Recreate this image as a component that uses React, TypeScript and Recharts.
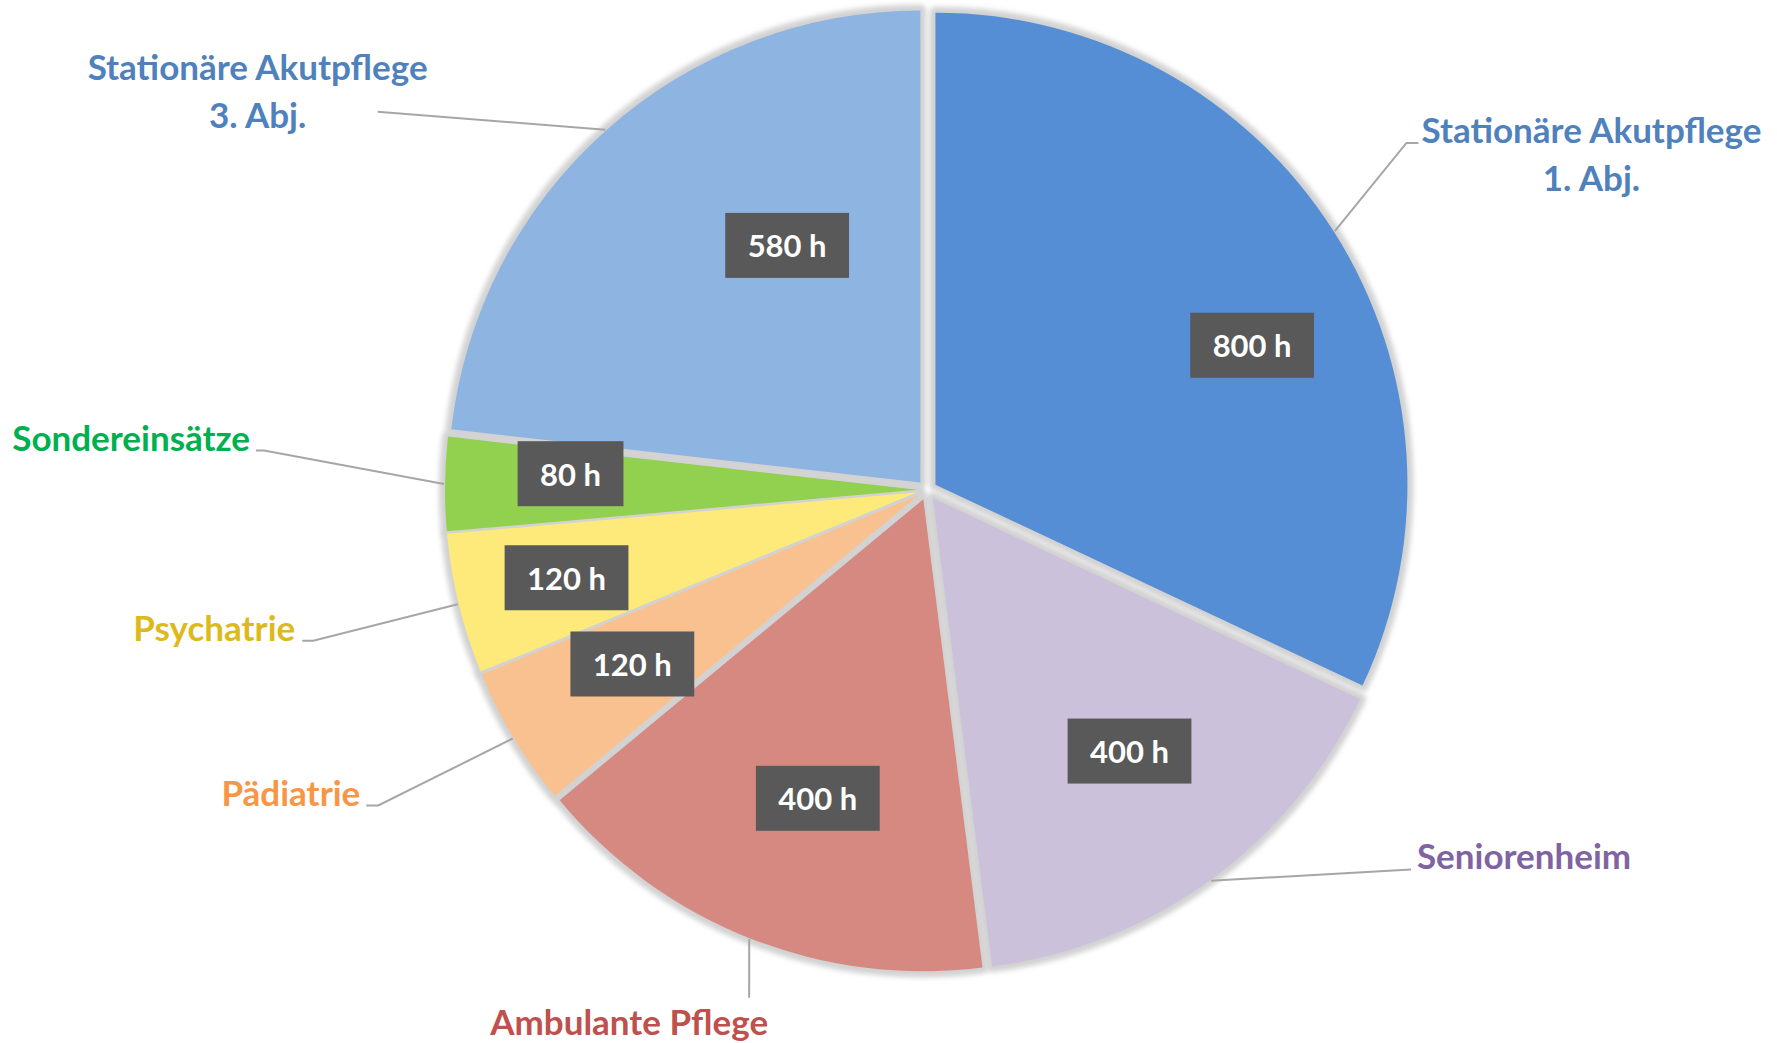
import React from 'react';
import { PieChart, Pie, Cell, Sector } from 'recharts';

// ---------- data ----------
const categories = [
  'Stationäre Akutpflege 1. Abj.',
  'Seniorenheim',
  'Ambulante Pflege',
  'Pädiatrie',
  'Psychatrie',
  'Sondereinsätze',
  'Stationäre Akutpflege 3. Abj.',
];
const categoryLines = [
  ['Stationäre Akutpflege', '1. Abj.'],
  ['Seniorenheim'],
  ['Ambulante Pflege'],
  ['Pädiatrie'],
  ['Psychatrie'],
  ['Sondereinsätze'],
  ['Stationäre Akutpflege', '3. Abj.'],
];
const hours = [800, 400, 400, 120, 120, 80, 580];
const unitSuffix = ' h';

// ---------- style ----------
const sliceColors = ['#558ED5', '#CBC1DA', '#D68980', '#F9C18F', '#FDEA7A', '#92D050', '#8EB4E2'];
const labelColors = ['#4F81BD', '#8064A2', '#C0504D', '#F79646', '#DDBA1C', '#00B050', '#4F81BD'];
const FONT = 'Lato, "Open Sans", sans-serif';

const W = 1777;
const H = 1043;
const CX = 927;
const CY = 490;
const R = 472;
const EXPLODE = 10;
const RAD = Math.PI / 180;

// data-label placement (turn: clockwise degrees off the slice mid angle, r: fraction of radius)
const dataLabelLayout = [
  { turn: 8.4, r: 0.754 },
  { turn: -1.8, r: 0.70 },
  { turn: -2.1, r: 0.693 },
  { turn: 0.4, r: 0.725 },
  { turn: 0, r: 0.786 },
  { turn: 1.9, r: 0.756 },
  { turn: 12, r: 0.597 },
];

// category-label placement: elbow of leader line (polar), tick, text anchor offsets
const outerLayout = [
  { turn: -3.5, r: 1.254, tick: 12, anchor: 'middle', dx: 185, dy: 0 },
  { turn: -15.9, r: 1.303, tick: 0, anchor: 'start', dx: 6, dy: 0 },
  { turn: -2.3, r: 1.14, tick: 0, anchor: 'middle', dx: -120, dy: 37 },
  { turn: 1.06, r: 1.341, tick: -12, anchor: 'end', dx: -18, dy: 0 },
  { turn: -0.12, r: 1.339, tick: -11, anchor: 'end', dx: -18, dy: 0 },
  { turn: 2.68, r: 1.407, tick: -8, anchor: 'end', dx: -14, dy: 0 },
  { turn: -13.7, r: 1.413, tick: 0, anchor: 'middle', dx: -120, dy: -32 },
];
const LINE_H = 48;

const data = categories.map((name, i) => ({ name, value: hours[i] }));

const polar = (cx: number, cy: number, r: number, angle: number) => ({
  x: cx + r * Math.cos(-angle * RAD),
  y: cy + r * Math.sin(-angle * RAD),
});

const explodedShadow = (props: any) => {
  const off = polar(0, 0, EXPLODE, props.midAngle);
  return (
    <g>
      <defs>
        <filter id="pieGlow" x="-20%" y="-20%" width="140%" height="140%">
          <feGaussianBlur stdDeviation="2.5" />
        </filter>
      </defs>
      <Sector
        cx={props.cx + off.x}
        cy={props.cy + off.y}
        innerRadius={0}
        outerRadius={props.outerRadius}
        startAngle={props.startAngle}
        endAngle={props.endAngle}
        fill="#d2d2d2"
        stroke="#d2d2d2"
        strokeWidth={12}
        strokeLinejoin="round"
        filter="url(#pieGlow)"
      />
    </g>
  );
};

const explodedSlice = (props: any) => {
  const off = polar(0, 0, EXPLODE, props.midAngle);
  return (
    <Sector
      cx={props.cx + off.x}
      cy={props.cy + off.y}
      innerRadius={0}
      outerRadius={props.outerRadius}
      startAngle={props.startAngle}
      endAngle={props.endAngle}
      fill={props.fill}
      stroke="none"
    />
  );
};

const renderLabels = (props: any) => {
  const { cx, cy, midAngle, outerRadius, index, value } = props;
  const dl = dataLabelLayout[index];
  const p = polar(cx, cy, outerRadius * dl.r, midAngle - dl.turn);
  const text = `${value}${unitSuffix}`;
  const fs = 31;
  const digits = String(value).length;
  const boxW = (digits * 0.58 + 0.19 + 0.58) * fs + 46;
  const boxH = 65;

  const ol = outerLayout[index];
  const start = polar(cx, cy, outerRadius + EXPLODE + 1, midAngle);
  const elbow = polar(cx, cy, outerRadius * ol.r, midAngle - ol.turn);
  const tickEnd = { x: elbow.x + ol.tick, y: elbow.y };
  const lines = categoryLines[index];

  return (
    <g>
      <polyline
        points={`${start.x},${start.y} ${elbow.x},${elbow.y} ${tickEnd.x},${tickEnd.y}`}
        fill="none"
        stroke="#A6A6A6"
        strokeWidth={2}
      />
      <text
        x={elbow.x + ol.dx}
        y={elbow.y + ol.dy}
        textAnchor={ol.anchor}
        fill={labelColors[index]}
        fontFamily={FONT}
        fontWeight={700}
        fontSize={35}
      >
        {lines.map((ln, k) => (
          <tspan key={k} x={elbow.x + ol.dx} dy={k === 0 ? 0 : LINE_H}>
            {ln}
          </tspan>
        ))}
      </text>
      <rect x={p.x - boxW / 2} y={p.y - boxH / 2} width={boxW} height={boxH} fill="#595959" />
      <text
        x={p.x}
        y={p.y}
        textAnchor="middle"
        dominantBaseline="central"
        fill="#FFFFFF"
        fontFamily={FONT}
        fontWeight={700}
        fontSize={fs}
      >
        {text}
      </text>
    </g>
  );
};

export default function App() {
  return (
    <div style={{ position: 'absolute', left: 0, top: 0, width: W, height: H, background: '#fff' }}>
      <PieChart width={W} height={H} margin={{ top: 0, right: 0, bottom: 0, left: 0 }}>
        <Pie
          data={data}
          dataKey="value"
          nameKey="name"
          cx={CX}
          cy={CY}
          outerRadius={R}
          startAngle={90}
          endAngle={-270}
          stroke="none"
          isAnimationActive={false}
          shape={explodedShadow}
          label={false}
          labelLine={false}
        />
        <Pie
          data={data}
          dataKey="value"
          nameKey="name"
          cx={CX}
          cy={CY}
          outerRadius={R}
          startAngle={90}
          endAngle={-270}
          stroke="none"
          isAnimationActive={false}
          shape={explodedSlice}
          label={renderLabels}
          labelLine={false}
        >
          {data.map((d, i) => (
            <Cell key={d.name} fill={sliceColors[i]} />
          ))}
        </Pie>
      </PieChart>
    </div>
  );
}
